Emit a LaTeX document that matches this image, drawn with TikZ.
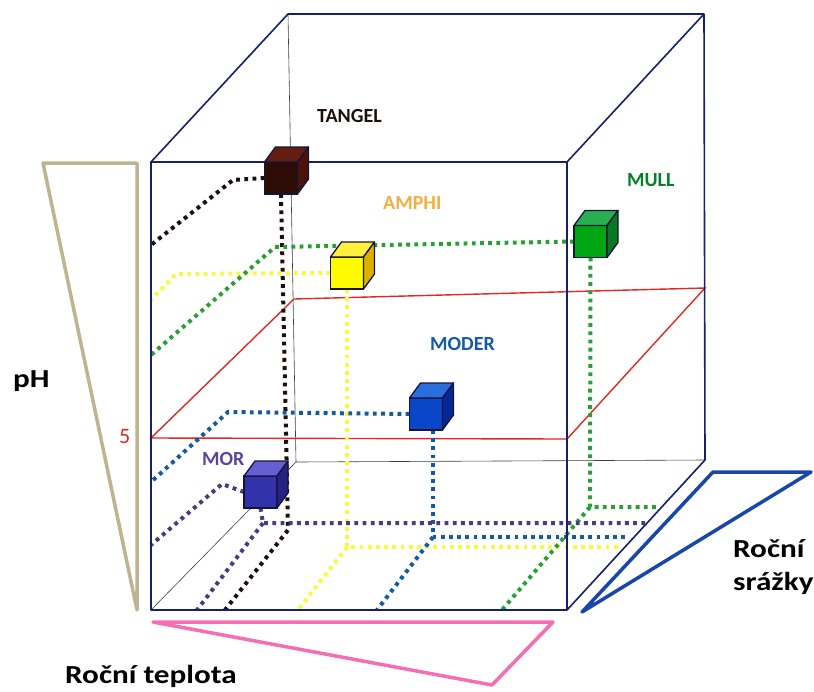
\documentclass[tikz,border=0pt]{standalone}
\usepackage{fontspec}
\setmainfont{Carlito}
\newfontfamily\widefont{Carlito}[FakeStretch=1.2]

\definecolor{frame}{RGB}{22,32,110}
\definecolor{cubeline}{RGB}{20,20,60}
\definecolor{planered}{RGB}{225,40,35}
\definecolor{phtan}{RGB}{190,180,145}
\definecolor{tempink}{RGB}{245,110,180}
\definecolor{rainblue}{RGB}{25,70,170}
\definecolor{tangelc}{RGB}{30,15,10}
\definecolor{amphic}{RGB}{250,250,60}
\definecolor{mullc}{RGB}{40,160,50}
\definecolor{moderc}{RGB}{20,90,160}
\definecolor{morc}{RGB}{70,60,130}

\pgfdeclarelayer{background}
\pgfdeclarelayer{middle}
\pgfsetlayers{background,middle,main}

% top and side of a cube whose front is the node #1
\newcommand{\cubeback}[3]{%
  \filldraw[draw=cubeline, line width=1.3pt, line join=round, fill=#2]
    (#1.north west) -- ++(11,-15) -- ++(33,0) -- (#1.north east) -- cycle;
  \filldraw[draw=cubeline, line width=1.3pt, line join=round, fill=#3]
    (#1.north east) -- ++(11,-15) -- ++(0,32) -- (#1.south east) -- cycle;
}

\begin{document}
\begin{tikzpicture}[%
      x=1pt, y=-1pt,
      frameline/.style={draw=frame, line width=1.6pt, line join=round},
      hidden/.style={draw=black!75, line width=0.6pt},
      trace/.style={line width=4pt, dash pattern=on 3.8pt off 4.4pt},
      cube/.style={draw=cubeline, line width=1.3pt, minimum width=33pt,
        minimum height=32pt, inner sep=0pt, outer sep=0pt},
      smalllabel/.style={font=\bfseries\fontsize{20}{24}\selectfont,
        inner sep=0pt, anchor=base west},
      biglabel/.style={font=\widefont\bfseries\fontsize{26}{31}\selectfont,
        inner sep=0pt, anchor=base west},
      ]
      \useasboundingbox (0,0) rectangle (814,691);

      % corners of the box
      \coordinate (f1) at (151,162);
      \coordinate (f2) at (567,162);
      \coordinate (f3) at (567,610);
      \coordinate (f4) at (151,610);
      \coordinate (b1) at (288,14);
      \coordinate (b2) at (704,14);
      \coordinate (b3) at (705,460);
      \coordinate (b4) at (296,462);

      % cubes
      \node[cube, fill={rgb,255:red,45;green,12;blue,5}] (tangel) at (281,178) {};
      \cubeback{tangel}{{rgb,255:red,100;green,30;blue,15}}{{rgb,255:red,75;green,20;blue,10}}
      \node[cube, fill={rgb,255:red,255;green,250;blue,0}] (amphi) at (347,273) {};
      \cubeback{amphi}{{rgb,255:red,255;green,240;blue,60}}{{rgb,255:red,220;green,175;blue,0}}
      \node[cube, fill={rgb,255:red,0;green,165;blue,20}] (mull) at (590.5,241.5) {};
      \cubeback{mull}{{rgb,255:red,40;green,175;blue,80}}{{rgb,255:red,10;green,120;blue,30}}
      \node[cube, fill={rgb,255:red,10;green,70;blue,200}] (moder) at (426,414) {};
      \cubeback{moder}{{rgb,255:red,40;green,110;blue,220}}{{rgb,255:red,5;green,40;blue,150}}
      \node[cube, fill={rgb,255:red,50;green,50;blue,170}] (mor) at (260.5,492) {};
      \cubeback{mor}{{rgb,255:red,100;green,95;blue,210}}{{rgb,255:red,35;green,35;blue,130}}

      \begin{pgfonlayer}{middle}
      % visible edges of the box
      \draw[frameline] (f1) -- (f2) -- (f3) -- (f4) -- cycle;
      \draw[frameline] (f1) -- (b1) -- (b2) -- (f2);
      \draw[frameline] (b2) -- (b3) -- (f3);
      \end{pgfonlayer}

      \begin{pgfonlayer}{background}
      \fill[white] (0,0) rectangle (814,691);

      % axis wedges
      \draw[phtan, line width=3.5pt, line join=round] (43,163) -- (137,163) -- (137,610) -- cycle;
      \draw[tempink, line width=3.5pt, line join=round] (153,622) -- (553,622) -- (492,685) -- cycle;
      \draw[rainblue, line width=3.5pt, line join=round] (713,472) -- (811,472) -- (582,612) -- cycle;

      % hidden edges
      \draw[hidden] (b1) -- (b4) -- (b3);
      \draw[hidden] (f4) -- (b4);

      % pH 5 plane
      \draw[planered, line width=1.4pt] (151,438) -- (294,299) -- (705,288) -- (567,439) -- cycle;

      % traces
      \coordinate (tw) at (233,180);
      \coordinate (tl) at (151,245);
      \coordinate (tv) at (288,530);
      \coordinate (tb) at (225,610);
      \draw[trace, tangelc] (tangel.west) -- (tw) -- (tl);
      \draw[trace, tangelc] (tangel.south) -- (tv) -- (tb);

      \coordinate (aw) at (176,274);
      \coordinate (al) at (151,300);
      \coordinate (av) at (347,547);
      \coordinate (ar) at (620,547);
      \coordinate (ab) at (298,610);
      \draw[trace, amphic] (amphi.west) -- (aw) -- (al);
      \draw[trace, amphic] (amphi.south) -- (av) -- (ar);
      \draw[trace, amphic] (av) -- (ab);

      \coordinate (uw) at (275,247);
      \coordinate (ul) at (151,355);
      \coordinate (uv) at (590,507);
      \coordinate (ur) at (660,507);
      \coordinate (ub) at (502,610);
      \draw[trace, mullc] (mull.west) -- (uw) -- (ul);
      \draw[trace, mullc] (mull.south) -- (uv) -- (ur);
      \draw[trace, mullc] (uv) -- (ub);

      \coordinate (mw) at (228,412);
      \coordinate (ml) at (151,482);
      \coordinate (mv) at (433,537);
      \coordinate (mr) at (628,537);
      \coordinate (mb) at (377,610);
      \draw[trace, moderc] (moder.west) -- (mw) -- (ml);
      \draw[trace, moderc] (moder.south -| mv) -- (mv) -- (mr);
      \draw[trace, moderc] (mv) -- (mb);

      \coordinate (rw) at (222,484);
      \coordinate (rl) at (151,545);
      \coordinate (rv) at (263,523);
      \coordinate (rr) at (648,523);
      \coordinate (rb) at (197,610);
      \draw[trace, morc] (mor.west) -- (rw) -- (rl);
      \draw[trace, morc] (mor.south) -- (rv) -- (rr);
      \draw[trace, morc] (rv) -- (rb);
      \end{pgfonlayer}

      % labels
      \node[smalllabel, text=tangelc] (ltangel) at (317,122) {TANGEL};
      \node[smalllabel, text={rgb,255:red,245;green,175;blue,65}] (lamphi) at (383,209) {AMPHI};
      \node[smalllabel, text={rgb,255:red,0;green,130;blue,40}] (lmull) at (627,186) {MULL};
      \node[smalllabel, text={rgb,255:red,20;green,90;blue,170}] (lmoder) at (430,350) {MODER};
      \node[smalllabel, text={rgb,255:red,90;green,70;blue,160}] (lmor) at (202,465) {MOR};
      \node[inner sep=0pt, anchor=base west, text=planered, font=\fontsize{22}{26}\selectfont] (lfive) at (119,443) {5};

      \node[biglabel] (lph) at (13,387) {pH};
      \node[biglabel] (ltemp) at (65,683) {Roční teplota};
      \node[biglabel] (lrain1) at (733,557) {Roční};
      \node[biglabel] (lrain2) at (733,590) {srážky};
\end{tikzpicture}
\end{document}
